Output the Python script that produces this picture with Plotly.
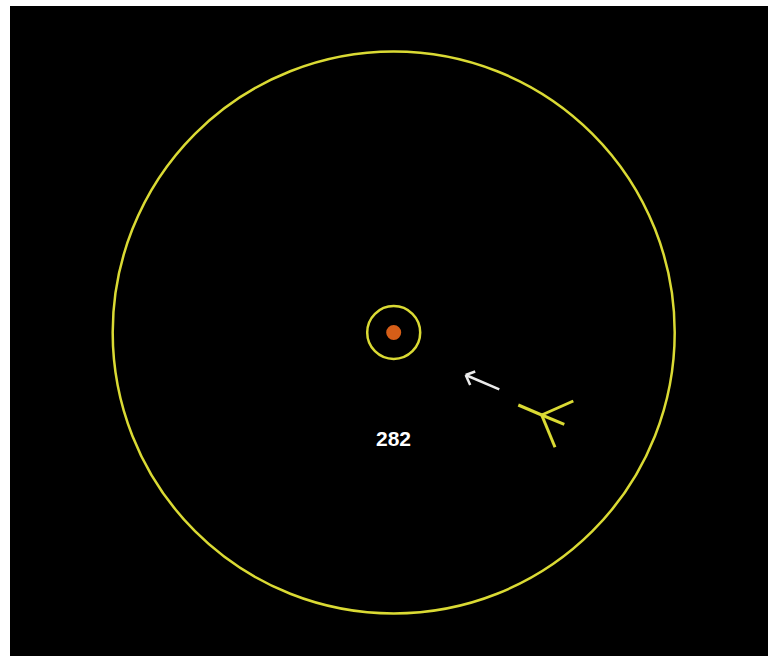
import plotly.graph_objects as go

# ---- data (units = screen pixels, origin at station centre, y up) ----
ring_radii = [281, 26.5]          # outer range ring, inner ring
dot_radius = [7.5]                 # station dot
label_text = ["<b>282</b>"]
label_pos = [(0, -105.5)]

# direction arrow: tail -> tip, plus the two head barbs
arrow_x = [105.6, 72.0, None, 72.0, 81.5, None, 72.0, 76.5]
arrow_y = [-56.8, -42.5, None, -42.5, -39.0, None, -42.5, -52.5]

# yellow track glyph (4 spokes from a hub)
glyph_x = [148.0, 124.6, None, 148.0, 179.6, None, 148.0, 170.6, None, 148.0, 161.3]
glyph_y = [-82.5, -72.5, None, -82.5, -68.5, None, -82.5, -91.8, None, -82.5, -114.8]

YELLOW = "rgb(218,218,52)"
ORANGE = "rgb(214,94,24)"

fig = go.Figure()

fig.add_trace(go.Scatter(x=arrow_x, y=arrow_y, mode="lines",
                         line=dict(color="rgb(235,235,235)", width=2.5),
                         hoverinfo="skip", showlegend=False))
fig.add_trace(go.Scatter(x=glyph_x, y=glyph_y, mode="lines",
                         line=dict(color=YELLOW, width=3),
                         hoverinfo="skip", showlegend=False))

shapes = []
for r in ring_radii:
    shapes.append(dict(type="circle", xref="x", yref="y",
                       x0=-r, x1=r, y0=-r, y1=r,
                       line=dict(color=YELLOW, width=2.5)))
for r in dot_radius:
    shapes.append(dict(type="circle", xref="x", yref="y",
                       x0=-r, x1=r, y0=-r, y1=r,
                       fillcolor=ORANGE, line=dict(color=ORANGE, width=0)))

annotations = [dict(x=p[0], y=p[1], xref="x", yref="y", text=t, showarrow=False,
                    font=dict(family="Liberation Sans, Arial", size=21, color="white"))
               for t, p in zip(label_text, label_pos)]

fig.update_layout(
    width=768, height=656,
    margin=dict(l=10, r=0, t=6, b=0, pad=0),
    paper_bgcolor="white", plot_bgcolor="black",
    shapes=shapes, annotations=annotations,
    xaxis=dict(range=[-383.7, 374.3], visible=False, fixedrange=True),
    yaxis=dict(range=[-323.5, 326.5], visible=False, fixedrange=True),
    showlegend=False,
)

fig.write_html("out.html", config={"displayModeBar": False},
               post_script="document.body.style.margin='0';document.body.style.overflow='hidden';")
